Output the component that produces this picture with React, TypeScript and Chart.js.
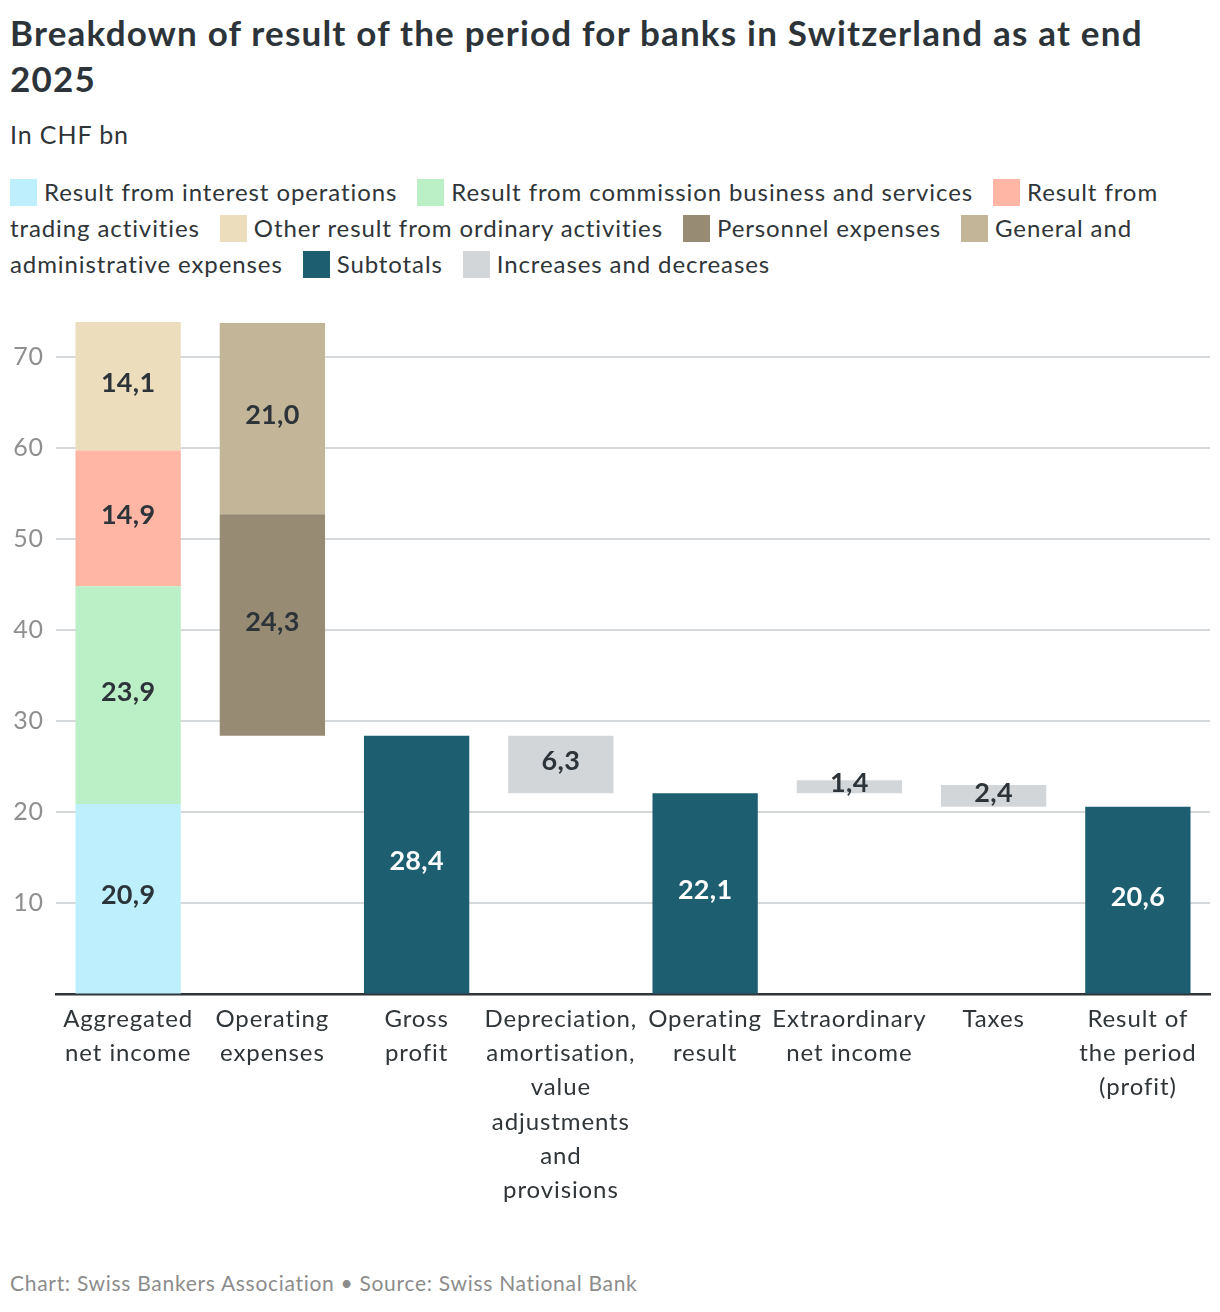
import React, { useEffect, useRef } from "react";
import { Chart, registerables } from "chart.js";

Chart.register(...registerables);

// ---------- data ----------
const categories: string[][] = [
  ["Aggregated", "net income"],
  ["Operating", "expenses"],
  ["Gross", "profit"],
  ["Depreciation,", "amortisation,", "value", "adjustments", "and", "provisions"],
  ["Operating", "result"],
  ["Extraordinary", "net income"],
  ["Taxes"],
  ["Result of", "the period", "(profit)"],
];

// Aggregated net income parts: interest, commission, trading, other
const incomeParts = [20.9, 23.9, 14.9, 14.1];
// Operating expenses parts: personnel, general & admin (stacked on top of gross profit)
const expenseParts = [24.3, 21.0];
// Subtotals: gross profit, operating result, result of the period
const subtotalIndex = [2, 4, 7];
const subtotalValues = [28.4, 22.1, 20.6];
// Increases and decreases: depreciation, extraordinary, taxes
const changeIndex = [3, 5, 6];
const changeValues = [6.3, 1.4, 2.4];
const changeBases = [22.1, 22.1, 20.6];

const yTicks = [0, 10, 20, 30, 40, 50, 60, 70];

const seriesNames = [
  "Result from interest operations",
  "Result from commission business and services",
  "Result from trading activities",
  "Other result from ordinary activities",
  "Personnel expenses",
  "General and administrative expenses",
  "Subtotals",
  "Increases and decreases",
];
const seriesColors = [
  "#bdeffd",
  "#bbefc6",
  "#ffb6a4",
  "#ecddbc",
  "#978b74",
  "#c3b597",
  "#1d5f71",
  "#d3d6d9",
];
const labelColors = [
  "#2d3439",
  "#2d3439",
  "#2d3439",
  "#2d3439",
  "#2d3439",
  "#2d3439",
  "#ffffff",
  "#2d3439",
];

const FONT = "Lato, 'Noto Sans', sans-serif";
const TEXT = "#2f3538";

const fmt = (v: number) => v.toFixed(1).replace(".", ",");

function buildDatasets() {
  const n = categories.length;
  const empty = () => new Array(n).fill(null) as any[];
  const datasets: any[] = [];

  let acc = 0;
  incomeParts.forEach((v, i) => {
    const data = empty();
    const lbl = empty();
    data[0] = [acc, acc + v];
    lbl[0] = fmt(v);
    acc += v;
    datasets.push({ label: seriesNames[i], data, valueLabels: lbl, backgroundColor: seriesColors[i], labelColor: labelColors[i] });
  });

  let eacc = subtotalValues[0];
  expenseParts.forEach((v, i) => {
    const data = empty();
    const lbl = empty();
    data[1] = [eacc, eacc + v];
    lbl[1] = fmt(v);
    eacc += v;
    datasets.push({ label: seriesNames[4 + i], data, valueLabels: lbl, backgroundColor: seriesColors[4 + i], labelColor: labelColors[4 + i] });
  });

  {
    const data = empty();
    const lbl = empty();
    subtotalIndex.forEach((idx, k) => {
      data[idx] = [0, subtotalValues[k]];
      lbl[idx] = fmt(subtotalValues[k]);
    });
    datasets.push({ label: seriesNames[6], data, valueLabels: lbl, backgroundColor: seriesColors[6], labelColor: labelColors[6] });
  }

  {
    const data = empty();
    const lbl = empty();
    changeIndex.forEach((idx, k) => {
      data[idx] = [changeBases[k], changeBases[k] + changeValues[k]];
      lbl[idx] = fmt(changeValues[k]);
    });
    datasets.push({ label: seriesNames[7], data, valueLabels: lbl, backgroundColor: seriesColors[7], labelColor: labelColors[7] });
  }

  return datasets.map((d) => ({
    ...d,
    grouped: false,
    barPercentage: 0.73,
    categoryPercentage: 1,
    borderWidth: 0,
  }));
}

const spacingPlugin = {
  id: "letterSpacing",
  beforeLayout(chart: any) {
    chart.ctx.letterSpacing = "0.9px";
  },
  beforeDraw(chart: any) {
    chart.ctx.letterSpacing = "0.9px";
  },
};

const valueLabelPlugin = {
  id: "valueLabels",
  afterDatasetsDraw(chart: any) {
    const ctx = chart.ctx;
    ctx.save();
    ctx.letterSpacing = "0.3px";
    ctx.font = `bold 27px ${FONT}`;
    ctx.textAlign = "center";
    ctx.textBaseline = "middle";
    chart.data.datasets.forEach((ds: any, di: number) => {
      const meta = chart.getDatasetMeta(di);
      meta.data.forEach((el: any, i: number) => {
        const lbl = ds.valueLabels?.[i];
        if (!lbl || ds.data[i] == null) return;
        const y = (el.y + el.base) / 2 - 3;
        ctx.fillStyle = ds.labelColor;
        ctx.fillText(lbl, el.x, y);
      });
    });
    ctx.restore();
  },
};

function WaterfallChart() {
  const ref = useRef<HTMLCanvasElement | null>(null);
  useEffect(() => {
    if (!ref.current) return;
    const yMax = incomeParts.reduce((a, b) => a + b, 0);
    const chart = new Chart(ref.current, {
      type: "bar",
      data: { labels: categories as any, datasets: buildDatasets() },
      options: {
        animation: false,
        responsive: false,
        layout: { padding: { top: 17, right: 2, left: 0, bottom: 0 } },
        plugins: {
          legend: { display: false },
          tooltip: { enabled: false },
        },
        scales: {
          x: {
            z: 1,
            grid: { display: false },
            border: { display: true, color: "#2f3538", width: 2.5 },
            ticks: {
              font: { family: FONT, size: 24, lineHeight: 1.42 },
              color: TEXT,
              padding: 0,
              maxRotation: 0,
              minRotation: 0,
              autoSkip: false,
            },
          },
          y: {
            min: 0,
            max: yMax,
            afterBuildTicks: (scale: any) => {
              scale.ticks = yTicks.map((v) => ({ value: v }));
            },
            afterFit: (scale: any) => {
              scale.width = 48;
            },
            grid: {
              color: (c: any) => (c.tick && c.tick.value === 0 ? "rgba(0,0,0,0)" : "#d6d9dc"),
              lineWidth: 2,
              drawTicks: false,
            },
            border: { display: false },
            ticks: {
              font: { family: FONT, size: 25 },
              color: "#8f8f8f",
              padding: 12,
              callback: (v: any) => (v === 0 ? "" : String(v)),
            },
          },
        },
      } as any,
      plugins: [spacingPlugin, valueLabelPlugin],
    });
    return () => chart.destroy();
  }, []);
  return <canvas ref={ref} width={1204} height={912} style={{ display: "block", width: 1204, height: 912 }} />;
}

export default function App() {
  return (
    <div style={{ width: 1204, fontFamily: FONT, color: TEXT }}>
      <div style={{ paddingLeft: 2 }}>
        <div
          style={{
            fontSize: 35,
            fontWeight: 700,
            lineHeight: "46px",
            marginTop: 1,
            color: "#2d3439",
            letterSpacing: "1.2px",
          }}
        >
          Breakdown of result of the period for banks in Switzerland as at end 2025
        </div>
        <div style={{ fontSize: 25, lineHeight: "36px", marginTop: 15, letterSpacing: "0.9px" }}>In CHF bn</div>
        <div style={{ fontSize: 24, lineHeight: "36px", marginTop: 22, letterSpacing: "0.9px" }}>
          {seriesNames.map((name, i) => (
            <span key={name} style={{ marginRight: 20 }}>
              <span
                style={{
                  display: "inline-block",
                  width: 27,
                  height: 27,
                  background: seriesColors[i],
                  verticalAlign: "-5px",
                  marginRight: 7,
                }}
              />
              {name}
            </span>
          ))}
        </div>
      </div>
      <div style={{ marginTop: 13 }}>
        <WaterfallChart />
      </div>
      <div
        style={{
          paddingLeft: 2,
          fontSize: 21,
          lineHeight: "24px",
          color: "#8c8c8c",
          marginTop: 64,
          letterSpacing: "0.7px",
        }}
      >
        Chart: Swiss Bankers Association • Source: Swiss National Bank
      </div>
    </div>
  );
}
